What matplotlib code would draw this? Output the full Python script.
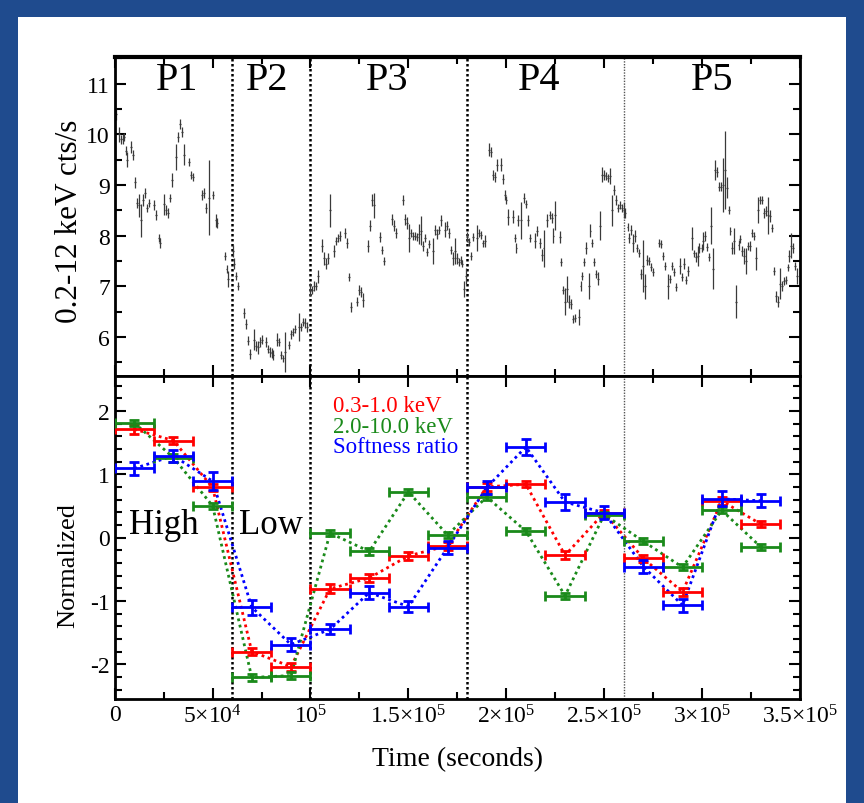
import matplotlib
matplotlib.use("Agg")
import matplotlib.pyplot as plt
import matplotlib.patches as mpatches
from matplotlib.ticker import FixedLocator, FixedFormatter, MultipleLocator
import numpy as np

plt.rcParams['font.family'] = ['Liberation Serif', 'DejaVu Serif']
plt.rcParams['mathtext.fontset'] = 'custom'
plt.rcParams['mathtext.rm'] = 'Liberation Serif'
plt.rcParams['mathtext.it'] = 'Liberation Serif:italic'
plt.rcParams['axes.unicode_minus'] = False

# ---- light curve: time (ks), count rate, 1-sigma error ----
lc_time = [0.5, 2.4, 3.0, 4.1, 4.7, 5.6, 6.4, 8.5, 9.3, 10.4, 11.4, 12.2, 13.2, 14.3, 15.3,
           16.5, 17.5, 20.2, 21.2, 22.4, 23.3, 25.3, 26.2, 27.4, 28.4, 29.2, 31.3, 32.3,
           33.3, 34.2, 35.4, 38.1, 39.1, 40.1, 44.4, 45.4, 46.4, 48.1, 50.1, 51.5, 52.4,
           56.3, 57.1, 58.0,
           60.5, 61.0, 61.9, 63.1, 66.0, 67.0, 68.2, 69.2, 71.0, 72.0, 73.1, 74.1, 75.1,
           77.2, 78.2, 79.2, 80.2, 81.1, 83.0, 84.0, 85.0, 86.0, 87.0, 89.1, 90.1, 91.1,
           92.1, 94.2, 95.2, 96.2, 97.2, 98.2,
           99.6, 100.6, 101.7, 102.7, 103.7, 105.7, 106.8, 107.8, 108.8, 109.8, 111.9,
           112.9, 113.9, 114.9, 117.6, 118.7, 119.7, 120.7, 123.8, 124.6, 125.7, 126.7,
           129.6, 130.6, 131.6, 132.6, 135.7, 136.7, 137.6, 141.5, 142.5, 143.5, 147.4,
           148.5, 149.5, 150.5, 151.5, 152.5, 153.6, 154.6, 155.6, 156.6, 157.6, 158.7,
           159.5, 160.5, 162.4, 163.4, 164.4, 165.5, 166.5, 168.5, 169.5, 170.6, 171.6,
           172.6, 173.6, 174.6, 175.7, 176.7, 177.5, 178.6, 179.6,
           180.0, 181.1, 182.1, 183.1, 185.2, 186.2, 187.2, 188.2, 189.2, 191.1, 192.1,
           193.2, 194.2, 195.2, 197.1, 198.1, 199.1, 200.1, 201.1, 203.2, 204.2, 205.2,
           206.2, 207.3, 209.1, 210.2, 211.2, 212.2, 214.9, 215.9, 217.0, 218.0, 219.0,
           221.0, 222.1, 223.1, 224.1, 225.1, 227.2, 228.0, 229.0, 230.1, 231.1, 232.1,
           233.1, 234.1, 235.2, 236.9, 237.9, 238.9, 239.8, 240.8, 242.0, 243.0, 244.0,
           244.9, 245.9, 246.9, 247.9, 249.0, 250.0, 251.0, 252.0, 252.9, 253.9, 254.9,
           255.9, 257.0, 258.0, 259.0, 260.0,
           260.7, 261.9, 262.9, 263.9, 264.8, 265.8, 266.8, 267.9, 268.9, 269.9, 270.9,
           271.9, 272.9, 274.0, 275.0, 277.9, 278.9, 279.9, 280.9, 282.6, 283.7, 284.7,
           285.7, 286.7, 288.8, 289.8, 290.8, 291.8, 292.8, 294.7, 295.7, 296.8, 297.8,
           298.6, 299.7, 300.7, 301.5, 302.6, 303.6, 304.6, 305.6, 306.6, 307.7, 308.7,
           309.7, 310.7, 311.7, 312.6, 313.6, 314.5, 315.5, 316.5, 317.5, 318.6, 319.6,
           320.6, 321.6, 322.5, 323.5, 324.5, 325.5, 326.5, 327.6, 328.4, 329.4, 330.5,
           331.5, 332.5, 333.5, 334.5, 335.6, 336.6, 337.6, 338.6, 339.6, 340.7, 341.7,
           342.7, 343.7, 344.6, 345.4, 346.5, 347.5, 348.5]
lc_rate = [10.40, 10.00, 9.90, 9.90, 9.95, 9.68, 9.50, 9.75, 9.60, 9.05, 8.65, 8.60, 8.30,
           8.70, 8.85, 8.55, 8.65, 8.60, 8.40, 7.95, 7.85, 8.62, 8.50, 8.45, 8.75, 9.10,
           9.55, 9.95, 10.20, 10.05, 9.60, 9.45, 9.20, 9.15, 8.80, 8.85, 8.55, 8.75, 8.80,
           8.30, 8.25, 7.60, 7.35, 7.15,
           7.70, 7.45, 7.20, 7.00, 6.48, 6.25, 5.93, 5.67, 5.95, 5.82, 5.80, 5.90, 5.95,
           5.90, 5.77, 5.70, 5.68, 5.65, 5.95, 5.90, 5.65, 5.58, 5.70, 5.85, 6.05, 6.10,
           6.15, 6.20, 6.20, 6.30, 6.27, 6.20,
           6.93, 6.93, 7.00, 7.00, 7.20, 7.80, 7.55, 7.45, 7.55, 8.50, 7.70,
           7.90, 7.95, 8.00, 8.05, 7.85, 7.18, 6.60, 6.70, 6.93, 6.88, 6.73,
           7.80, 8.20, 8.70, 8.60, 7.97, 7.72, 7.50, 8.32, 8.20, 8.05, 8.70,
           8.32, 8.25, 7.95, 8.05, 8.00, 8.00, 7.97, 8.03, 8.10, 7.80, 7.96,
           7.67, 7.83, 7.70, 8.12, 8.03, 8.12, 8.30, 8.12, 8.20, 8.05, 7.72,
           7.55, 7.70, 7.55, 7.48, 7.52, 7.45, 6.95, 7.20,
           7.98, 7.88, 7.60, 7.98, 7.95, 8.05, 8.02, 7.85, 7.90, 9.70, 9.65,
           9.20, 9.15, 9.40, 9.40, 9.12, 8.80, 8.70, 8.37, 8.37, 7.95, 7.75,
           8.30, 8.30, 8.75, 8.63, 8.30, 7.95, 7.90, 8.10, 7.85, 7.62, 7.75,
           8.30, 8.40, 8.35, 8.00, 8.40, 7.97, 7.48, 6.93, 6.70, 6.95, 6.70,
           6.65, 6.35, 6.38, 6.40, 7.00, 7.20, 7.48, 7.75, 7.00, 8.10, 7.85,
           7.48, 7.25, 7.15, 8.20, 9.20, 9.20, 9.18, 9.13, 9.17, 8.50, 8.90,
           8.70, 8.55, 8.60, 8.55, 8.50,
           8.45, 8.17, 7.95, 8.12, 7.85, 8.00, 7.75, 7.65, 7.25, 7.40, 7.00,
           7.52, 7.50, 7.38, 7.28, 7.85, 7.83, 7.60, 7.40, 7.00, 7.15, 7.40,
           7.28, 6.98, 7.40, 7.18, 7.45, 7.12, 7.30, 7.95, 7.65, 7.58, 7.60,
           7.75, 7.75, 7.90, 8.00, 7.78, 7.57, 8.20, 7.35, 9.30, 9.25, 8.97,
           8.97, 9.00, 9.30, 8.95, 8.50, 8.10, 7.75, 7.90, 6.70, 7.82, 7.93,
           7.70, 7.60, 7.50, 7.80, 7.80, 8.05, 8.00, 7.55, 8.50, 8.70, 8.70,
           8.45, 8.48, 8.40, 8.38, 8.15, 7.30, 6.80, 6.70, 7.05, 7.00, 7.10,
           7.12, 7.38, 7.60, 7.80, 7.75, 7.40, 7.20]
lc_err = [0.12, 0.15, 0.09, 0.10, 0.08, 0.09, 0.15, 0.12, 0.10, 0.10, 0.10, 0.23, 0.33,
          0.12, 0.10, 0.08, 0.08, 0.10, 0.10, 0.08, 0.10, 0.21, 0.10, 0.10, 0.08, 0.13,
          0.26, 0.10, 0.10, 0.10, 0.21, 0.08, 0.08, 0.08, 0.10, 0.10, 0.10, 0.74, 0.08,
          0.12, 0.10, 0.08, 0.08, 0.16,
          0.12, 0.10, 0.08, 0.08, 0.10, 0.10, 0.08, 0.10, 0.21, 0.10, 0.13, 0.10, 0.08,
          0.10, 0.08, 0.10, 0.10, 0.10, 0.12, 0.08, 0.08, 0.07, 0.40, 0.08, 0.08, 0.08,
          0.08, 0.28, 0.08, 0.08, 0.10, 0.10,
          0.13, 0.08, 0.10, 0.08, 0.13, 0.13, 0.12, 0.10, 0.10, 0.33, 0.12,
          0.08, 0.08, 0.10, 0.10, 0.10, 0.08, 0.10, 0.08, 0.10, 0.10, 0.13,
          0.12, 0.10, 0.12, 0.25, 0.10, 0.08, 0.08, 0.10, 0.10, 0.10, 0.10,
          0.10, 0.12, 0.28, 0.08, 0.08, 0.08, 0.08, 0.20, 0.28, 0.10, 0.08,
          0.08, 0.08, 0.25, 0.10, 0.10, 0.08, 0.10, 0.15, 0.08, 0.10, 0.08,
          0.13, 0.26, 0.10, 0.08, 0.08, 0.07, 0.16, 0.16,
          0.10, 0.08, 0.08, 0.08, 0.26, 0.08, 0.08, 0.07, 0.12, 0.13, 0.10,
          0.10, 0.10, 0.12, 0.13, 0.10, 0.10, 0.08, 0.16, 0.13, 0.08, 0.10,
          0.10, 0.36, 0.10, 0.08, 0.10, 0.08, 0.15, 0.10, 0.10, 0.12, 0.36,
          0.12, 0.08, 0.10, 0.15, 0.28, 0.12, 0.08, 0.08, 0.26, 0.26, 0.13,
          0.10, 0.08, 0.08, 0.16, 0.10, 0.08, 0.08, 0.12, 0.26, 0.13, 0.08,
          0.08, 0.08, 0.13, 0.28, 0.15, 0.10, 0.08, 0.08, 0.16, 0.31, 0.10,
          0.10, 0.08, 0.08, 0.08, 0.16,
          0.10, 0.08, 0.10, 0.10, 0.18, 0.12, 0.08, 0.08, 0.10, 0.51, 0.25,
          0.10, 0.08, 0.08, 0.08, 0.08, 0.08, 0.08, 0.08, 0.25, 0.08, 0.08,
          0.08, 0.08, 0.16, 0.08, 0.10, 0.08, 0.10, 0.23, 0.07, 0.10, 0.20,
          0.10, 0.08, 0.18, 0.10, 0.08, 0.08, 0.36, 0.40, 0.20, 0.10, 0.08,
          0.08, 0.53, 0.77, 0.20, 0.08, 0.08, 0.12, 0.26, 0.33, 0.10, 0.08,
          0.10, 0.15, 0.25, 0.08, 0.10, 0.08, 0.08, 0.23, 0.26, 0.08, 0.08,
          0.10, 0.10, 0.36, 0.12, 0.08, 0.08, 0.10, 0.10, 0.31, 0.10, 0.08,
          0.08, 0.07, 0.12, 0.25, 0.10, 0.08, 0.16]

# ---- binned normalized light curves (20 ks bins) ----
bin_time = [10, 30, 50, 70, 90, 110, 130, 150, 170, 190, 210, 230, 250, 270, 290, 310, 330]
soft_val = [1.71, 1.53, 0.79, -1.80, -2.04, -0.81, -0.64, -0.29, -0.13, 0.80, 0.84, -0.28,
            0.39, -0.33, -0.86, 0.58, 0.21]
soft_err = [0.07, 0.06, 0.05, 0.05, 0.06, 0.07, 0.07, 0.06, 0.06, 0.06, 0.05, 0.06,
            0.05, 0.06, 0.06, 0.06, 0.05]
hard_val = [1.81, 1.26, 0.50, -2.21, -2.18, 0.07, -0.22, 0.72, 0.04, 0.64, 0.10, -0.92,
            0.36, -0.06, -0.47, 0.43, -0.15]
hard_err = [0.05, 0.06, 0.05, 0.05, 0.05, 0.05, 0.05, 0.05, 0.05, 0.05, 0.05, 0.05,
            0.05, 0.05, 0.05, 0.05, 0.04]
ratio_val = [1.09, 1.29, 0.89, -1.10, -1.69, -1.45, -0.87, -1.09, -0.16, 0.79, 1.43, 0.56,
             0.39, -0.46, -1.07, 0.61, 0.58]
ratio_err = [0.10, 0.09, 0.14, 0.12, 0.10, 0.08, 0.10, 0.08, 0.10, 0.10, 0.12, 0.12,
             0.10, 0.10, 0.10, 0.12, 0.10]

series_names = ['0.3-1.0 keV', '2.0-10.0 keV', 'Softness ratio']
series_colors = ['#ff0000', '#1a8a1a', '#0000ff']

period_edges = [60, 100, 180, 260]          # ks
period_names = ['P1', 'P2', 'P3', 'P4', 'P5']
period_label_x = [32, 78, 139, 217, 305]     # ks

xtick_vals = [0, 50, 100, 150, 200, 250, 300, 350]
xtick_labels = ['0', r'$5{\times}10^{4}$', r'$10^{5}$', r'$1.5{\times}10^{5}$',
                r'$2{\times}10^{5}$', r'$2.5{\times}10^{5}$', r'$3{\times}10^{5}$',
                r'$3.5{\times}10^{5}$']

S = 1000.0  # ks -> s

W, H = 864, 804
fig = plt.figure(figsize=(W / 100, H / 100), dpi=100)
fig.patch.set_facecolor('#1f4b8e')
fig.patches.append(mpatches.Rectangle((18 / W, 0), (846 - 18) / W, (H - 18) / H,
                                      transform=fig.transFigure, facecolor='white',
                                      edgecolor='none', zorder=-10))

left, width = 114.7 / W, (800 - 114.7) / W
ax1 = fig.add_axes([left, 1 - 377 / H, width, (377 - 58.3) / H])
ax2 = fig.add_axes([left, 1 - 700 / H, width, (700 - 377) / H])
for ax in (ax1, ax2):
    ax.set_zorder(5)

t = np.array(lc_time) * S
ax1.errorbar(t, lc_rate, yerr=lc_err, xerr=500, fmt='none', ecolor='#3a3a3a',
             elinewidth=0.9, capsize=0)

bt = np.array(bin_time) * S
for vals, errs, name, col in zip([soft_val, hard_val, ratio_val],
                                 [soft_err, hard_err, ratio_err],
                                 series_names, series_colors):
    ax2.plot(bt, vals, linestyle=(0, (1, 1.3)), color=col, lw=2.0, zorder=3)
    ax2.errorbar(bt, vals, yerr=errs, xerr=10 * S, fmt='none', ecolor=col,
                 elinewidth=2.0, capsize=3.5, capthick=2.0, zorder=4)

for ax in (ax1, ax2):
    for i, e in enumerate(period_edges):
        if i < 3:
            ax.axvline(e * S, color='black', linestyle=(0, (1, 1)), lw=1.8, zorder=1)
        else:
            ax.axvline(e * S, color='#555555', linestyle=(0, (1, 1)), lw=1.0, zorder=1)
    ax.set_xlim(0, 350 * S)
    ax.xaxis.set_major_locator(FixedLocator([v * S for v in xtick_vals]))
    ax.xaxis.set_minor_locator(MultipleLocator(25 * S))
    ax.tick_params(which='both', direction='in', top=True, right=True, width=1.5,
                   labelsize=17)
    ax.tick_params(which='major', length=8)
    ax.tick_params(which='minor', length=5)
    for sp in ax.spines.values():
        sp.set_linewidth(2.0)

ax1.spines['top'].set_linewidth(3.0)
ax1.set_ylim(5.23, 11.52)
ax1.yaxis.set_major_locator(MultipleLocator(1))
ax1.yaxis.set_minor_locator(MultipleLocator(0.5))
ax1.set_xticklabels([])
ax1.set_ylabel('0.2-12 keV cts/s', fontsize=22.5, va='center', ha='center')
ax1.yaxis.set_label_coords(-0.066, 0.49)

for name, x in zip(period_names, period_label_x):
    ax1.text(x * S, 11.08, name, fontsize=29, ha='center', va='center')

ax2.set_ylim(-2.55, 2.55)
ax2.yaxis.set_major_locator(MultipleLocator(1))
ax2.yaxis.set_minor_locator(MultipleLocator(0.2))
ax2.xaxis.set_major_formatter(FixedFormatter(xtick_labels))
ax2.set_ylabel('Normalized', fontsize=19, va='center', ha='center')
ax2.yaxis.set_label_coords(-0.068, 0.415)
ax2.set_xlabel('Time (seconds)', fontsize=20, va='center', ha='center')
ax2.xaxis.set_label_coords(0.5, -0.186)

ax2.text(25 * S, 0.2, 'High', fontsize=25, ha='center', va='center')
ax2.text(80 * S, 0.2, 'Low', fontsize=25, ha='center', va='center')

for name, col, y in zip(series_names, series_colors, [2.08, 1.75, 1.43]):
    ax2.text(111.5 * S, y, name, color=col, fontsize=16.5, ha='left', va='center')

fig.savefig('out.png', dpi=100, facecolor=fig.get_facecolor())
